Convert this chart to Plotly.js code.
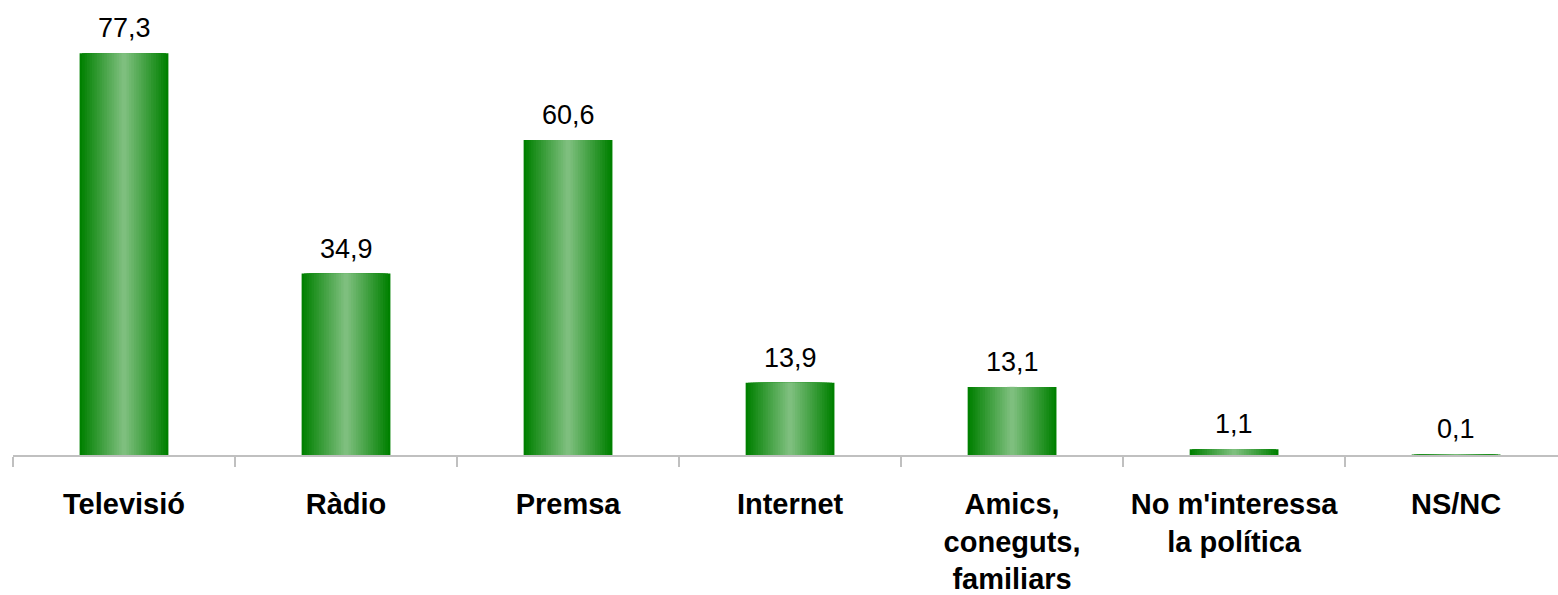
<!DOCTYPE html>
<html>
<head>
<meta charset="utf-8">
<script src="https://cdn.plot.ly/plotly-3.0.1.min.js"></script>
<style>
html,body{margin:0;padding:0;background:#fff;}
#chart{width:1558px;height:595px;}
</style>
</head>
<body>
<div id="chart"></div>
<script>
// Data
const categories = ["Televisió", "Ràdio", "Premsa", "Internet", "Amics,<br>coneguts,<br>familiars", "No m'interessa<br>la política", "NS/NC"];
const values = [77.3, 34.9, 60.6, 13.9, 13.1, 1.1, 0.1];
const valueLabels = values.map(v => v.toFixed(1).replace('.', ','));

// Gradient simulated by nested bars (dark edges -> light centre)
const nLayers = 18;
const fullWidth = 0.4;
const dark = [0, 128, 0];
const light = [126, 191, 126];
const traces = [];
for (let i = 0; i < nLayers; i++) {
  const t = i / (nLayers - 1);
  const c = dark.map((d, k) => Math.round(d + (light[k] - d) * t));
  traces.push({
    type: 'bar',
    x: categories,
    y: values,
    width: fullWidth * (1 - i / nLayers),
    marker: {color: `rgb(${c[0]},${c[1]},${c[2]})`, line: {width: 0}},
    hoverinfo: 'skip',
    showlegend: false
  });
}

const annotations = categories.map((c, i) => ({
  x: c, y: values[i], xref: 'x', yref: 'y',
  text: valueLabels[i], showarrow: false,
  yanchor: 'bottom', yshift: 8,
  font: {family: 'Liberation Sans, Arial, sans-serif', size: 27, color: '#000'}
}));

const layout = {
  width: 1558, height: 595,
  margin: {l: 13, r: 0, t: 10, b: 140},
  paper_bgcolor: '#fff', plot_bgcolor: '#fff',
  barmode: 'overlay',
  showlegend: false,
  xaxis: {
    type: 'category',
    range: [-0.5, 6.459],
    showline: true, linecolor: '#c0c0c0', linewidth: 2,
    ticks: 'outside', tickson: 'boundaries', ticklen: 10, tickwidth: 2, tickcolor: '#c0c0c0',
    tickangle: 0,
    tickfont: {family: 'Liberation Sans, Arial, sans-serif', size: 29, color: '#000', weight: 'bold'},
    ticklabelstandoff: 22,
    showgrid: false, zeroline: false, fixedrange: true, layer: 'above traces'
  },
  yaxis: {
    range: [0, 85.6],
    visible: false, showgrid: false, zeroline: false, fixedrange: true
  },
  annotations: annotations
};

Plotly.newPlot('chart', traces, layout, {displayModeBar: false, staticPlot: true});
</script>
</body>
</html>
